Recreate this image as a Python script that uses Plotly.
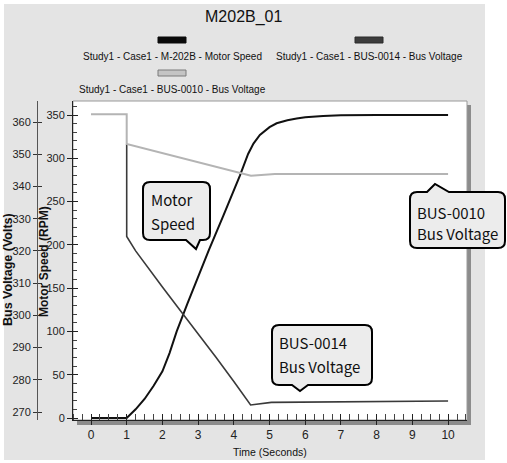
import plotly.graph_objects as go

# ---------------- data ----------------
time_speed = [0, 1, 1.25, 1.5, 1.75, 2.0, 2.2, 2.4, 2.7, 3.0, 3.3, 3.71, 4.0, 4.17, 4.4, 4.55, 4.73, 5.0, 5.2, 5.5, 5.76, 6.0, 6.5, 7.0, 8.0, 10.0]
motor_speed = [0, 0, 10, 22, 37, 54, 75, 100, 132, 163, 194, 234, 262, 280, 305, 317, 327, 336, 340.5, 344, 346, 347.5, 349, 349.7, 350, 350]

time_bus10 = [0, 1, 1, 4.48, 5.15, 10]
volt_bus10 = [362.4, 362.4, 353.2, 343.3, 343.9, 343.9]

time_bus14 = [1, 1, 1.25, 1.5, 2.0, 2.5, 3.0, 3.5, 4.0, 4.47, 5.05, 10]
volt_bus14 = [353.2, 324.5, 320.0, 316.2, 308.8, 301.5, 294.3, 287.0, 279.5, 272.2, 273.0, 273.4]

x_ticks = list(range(0, 11))
rpm_ticks = [0, 50, 100, 150, 200, 250, 300, 350]
volt_ticks = [270, 280, 290, 300, 310, 320, 330, 340, 350, 360]

legend_names = ["Study1 - Case1 - M-202B - Motor Speed",
                "Study1 - Case1 - BUS-0014 - Bus Voltage",
                "Study1 - Case1 - BUS-0010 - Bus Voltage"]
title_text = "M202B_01"

# ---------------- layout geometry ----------------
W, H = 507, 463
ML, MR, MT, MB = 4, 40, 101, 43
PW = W - ML - MR
PH = H - MT - MB


def px(xpix):
    return (xpix - ML) / PW


def py(ypix):
    return (H - MB - ypix) / PH


SANS = "Liberation Sans, Arial, sans-serif"
CALL = "Noto Sans CJK KR, Noto Sans, sans-serif"

fig = go.Figure()

fig.add_trace(go.Scatter(x=time_bus14, y=volt_bus14, mode="lines", yaxis="y2",
                         line=dict(color="#3a3a3a", width=1.6), name=legend_names[1]))
fig.add_trace(go.Scatter(x=time_bus10, y=volt_bus10, mode="lines", yaxis="y2",
                         line=dict(color="#b4b4b4", width=2), name=legend_names[2]))
fig.add_trace(go.Scatter(x=time_speed, y=motor_speed, mode="lines", yaxis="y",
                         line=dict(color="#111111", width=2), name=legend_names[0]))

shapes = []
# outer gray background
shapes.append(dict(type="rect", xref="paper", yref="paper", layer="below",
                   x0=px(4), x1=px(485), y0=py(460), y1=py(4),
                   fillcolor="#e4e4e4", line=dict(width=0)))
# shadow of plot frame
shapes.append(dict(type="rect", xref="paper", yref="paper", layer="below",
                   x0=px(77), x1=px(471), y0=py(425), y1=py(105),
                   fillcolor="#8c8c8c", line=dict(width=0)))
# white plot area
shapes.append(dict(type="rect", xref="paper", yref="paper", layer="below",
                   x0=px(73), x1=px(467), y0=py(420), y1=py(101),
                   fillcolor="#ffffff", line=dict(color="#9a9a9a", width=1)))

# legend swatches
shapes.append(dict(type="rect", xref="paper", yref="paper",
                   x0=px(158), x1=px(186), y0=py(43), y1=py(37),
                   fillcolor="#0a0a0a", line=dict(color="#0a0a0a", width=1)))
shapes.append(dict(type="rect", xref="paper", yref="paper",
                   x0=px(355), x1=px(383), y0=py(43), y1=py(37),
                   fillcolor="#3c3c3c", line=dict(color="#2a2a2a", width=1)))
shapes.append(dict(type="rect", xref="paper", yref="paper",
                   x0=px(158), x1=px(186), y0=py(76), y1=py(70),
                   fillcolor="#c4c4c4", line=dict(color="#7a7a7a", width=1)))


def callout(x0, y0, x1, y1, r, top_ptr=None, bot_ptr=None):
    d = "M {},{} ".format(px(x0 + r), py(y0))
    if top_ptr:
        for (a, b) in top_ptr:
            d += "L {},{} ".format(px(a), py(b))
    d += "L {},{} ".format(px(x1 - r), py(y0))
    d += "Q {},{} {},{} ".format(px(x1), py(y0), px(x1), py(y0 + r))
    d += "L {},{} ".format(px(x1), py(y1 - r))
    d += "Q {},{} {},{} ".format(px(x1), py(y1), px(x1 - r), py(y1))
    if bot_ptr:
        for (a, b) in bot_ptr:
            d += "L {},{} ".format(px(a), py(b))
    d += "L {},{} ".format(px(x0 + r), py(y1))
    d += "Q {},{} {},{} ".format(px(x0), py(y1), px(x0), py(y1 - r))
    d += "L {},{} ".format(px(x0), py(y0 + r))
    d += "Q {},{} {},{} Z".format(px(x0), py(y0), px(x0 + r), py(y0))
    return dict(type="path", xref="paper", yref="paper", path=d,
                fillcolor="#ececec", line=dict(color="#000000", width=2))


shapes.append(callout(143, 182, 210, 240, 7, bot_ptr=[(200, 240), (196, 249), (186, 240)]))
shapes.append(callout(272, 325, 372, 385, 7, bot_ptr=[(308, 385), (300, 391), (292, 385)]))
shapes.append(callout(410, 192, 505, 248, 7, top_ptr=[(427, 192), (435, 184), (449, 192)]))

annotations = []


def text(x, y, s, size, family=SANS, xanchor="center", color="#111111", angle=0, bold=False):
    if bold:
        s = "<b>" + s + "</b>"
    annotations.append(dict(x=px(x), y=py(y), xref="paper", yref="paper", text=s,
                            showarrow=False, xanchor=xanchor, yanchor="middle",
                            textangle=angle,
                            font=dict(family=family, size=size, color=color)))


text(243, 17, title_text, 16)
text(172, 57, legend_names[0], 10)
text(369, 57, legend_names[1], 10)
text(172, 90, legend_names[2], 10)
text(270, 452, "Time (Seconds)", 10.5)
text(8, 270, "Bus Voltage (Volts)", 12.5, angle=-90, bold=True)
text(44, 262, "Motor Speed (RPM)", 12, angle=-90, bold=True)

text(149, 199, "Motor", 15, family=CALL, xanchor="left")
text(149, 223, "Speed", 15, family=CALL, xanchor="left")
text(277, 342, "BUS-0014", 15, family=CALL, xanchor="left")
text(277, 366, "Bus Voltage", 15, family=CALL, xanchor="left")
text(415, 212, "BUS-0010", 15, family=CALL, xanchor="left")
text(415, 234, "Bus Voltage", 15, family=CALL, xanchor="left")

x_lo = -0.504
x_hi = 10.53
rpm_range = [-2.31, 366.2]
volt_range = [267.52, 366.52]
xdom0 = px(73)
vpos = px(37)

tickfont = dict(family=SANS, size=11, color="#222222")
xtickfont = dict(family=SANS, size=12, color="#222222")

fig.update_layout(
    width=W, height=H,
    margin=dict(l=ML, r=MR, t=MT, b=MB, pad=0),
    paper_bgcolor="#ffffff",
    plot_bgcolor="rgba(0,0,0,0)",
    showlegend=False,
    shapes=shapes,
    annotations=annotations,
    xaxis=dict(domain=[xdom0, 1], range=[x_lo, x_hi], tickvals=x_ticks,
               ticks="outside", ticklen=4, tickcolor="#222", tickwidth=1,
               minor=dict(dtick=0.25, tick0=0, ticks="inside", ticklen=6, tickcolor="#444", showgrid=False),
               showline=True, linecolor="#222", linewidth=1, showgrid=False, zeroline=False,
               tickfont=xtickfont, anchor="y"),
    xaxis2=dict(domain=[xdom0, 1], range=[x_lo, x_hi], tickvals=x_ticks, overlaying="x",
                ticks="inside", ticklen=6, tickcolor="#222", showticklabels=False,
                showline=False, showgrid=False, zeroline=False, anchor="y"),
    yaxis=dict(range=rpm_range, tickvals=rpm_ticks, ticks="outside", ticklen=5,
               tickcolor="#222", showline=True, linecolor="#222", linewidth=1,
               minor=dict(dtick=10, tick0=0, ticks="inside", ticklen=4, tickcolor="#444", showgrid=False),
               showgrid=False, zeroline=False, tickfont=tickfont, anchor="x"),
    yaxis3=dict(range=rpm_range, tickvals=rpm_ticks, ticks="inside", ticklen=5,
                tickcolor="#222", showticklabels=False, overlaying="y", anchor="x",
                showline=False, showgrid=False, zeroline=False),
    yaxis2=dict(range=volt_range, tickvals=volt_ticks, ticks="outside", ticklen=4,
                tickcolor="#333", overlaying="y", anchor="free", position=vpos, side="left",
                showline=True, linecolor="#555", linewidth=1, showgrid=False, zeroline=False,
                tickfont=tickfont),
    yaxis4=dict(range=volt_range, tickvals=volt_ticks, ticks="inside", ticklen=4,
                tickcolor="#333", overlaying="y", anchor="free", position=vpos, side="left",
                showticklabels=False, showline=False, showgrid=False, zeroline=False),
)

# invisible helpers so the duplicate tick axes are drawn
fig.add_trace(go.Scatter(x=[None], y=[None], xaxis="x2", yaxis="y3", showlegend=False, hoverinfo="skip"))
fig.add_trace(go.Scatter(x=[None], y=[None], xaxis="x", yaxis="y4", showlegend=False, hoverinfo="skip"))

fig.write_html("out.html", config={"displayModeBar": False},
               post_script="document.body.style.margin='0px';document.body.style.padding='0px';")
